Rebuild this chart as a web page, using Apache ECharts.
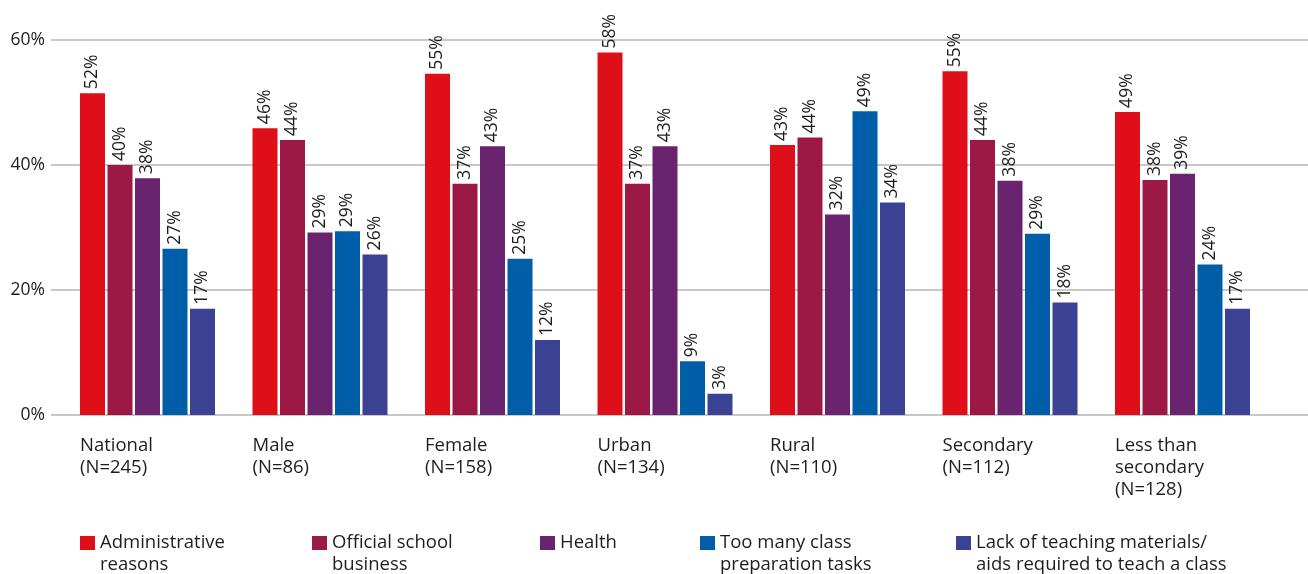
<!DOCTYPE html>
<html>
<head>
<meta charset="utf-8">
<title>Reasons for teacher absence</title>
<script src="https://cdn.jsdelivr.net/npm/echarts@6/dist/echarts.min.js"></script>
<style>
  html, body { margin: 0; padding: 0; background: #ffffff; }
  #chart { width: 1308px; height: 574px; }
</style>
</head>
<body>
<div id="chart"></div>
<script>
// Groups shown along the x axis
const categories = [
  'National\n(N=245)',
  'Male\n(N=86)',
  'Female\n(N=158)',
  'Urban\n(N=134)',
  'Rural\n(N=110)',
  'Secondary\n(N=112)',
  'Less than\nsecondary\n(N=128)'
];

// Share of teachers citing each reason (%)
const administrative = [51.5, 45.9, 54.6, 58.0, 43.2, 55.0, 48.5];
const officialBusiness = [40.0, 44.0, 37.0, 37.0, 44.4, 44.0, 37.6];
const health = [37.9, 29.2, 43.0, 43.0, 32.1, 37.5, 38.6];
const classPreparation = [26.6, 29.4, 25.0, 8.6, 48.6, 29.0, 24.1];
const teachingMaterials = [17.0, 25.7, 12.0, 3.4, 34.0, 18.0, 17.0];

const seriesNames = [
  'Administrative\nreasons',
  'Official school\nbusiness',
  'Health',
  'Too many class\npreparation tasks',
  'Lack of teaching materials/\naids required to teach a class'
];
const seriesValues = [administrative, officialBusiness, health, classPreparation, teachingMaterials];
const seriesColors = ['#de0f18', '#9b1944', '#6a236f', '#005ea9', '#3b4294'];

// Value axis ticks
const yMin = 0, yMax = 60, yStep = 20;

const FONT = '"Open Sans", "Liberation Sans", Arial, sans-serif';
const INK = '#1d1d1b';

// Legend entries sit at hand-placed x positions
const legendLeft = [80, 312, 540, 700, 956];

// Swatch drawn in the upper part of a taller icon box, so that for
// two-line labels it sits beside the first line of text.
const TALL_SWATCH = 'path://M0,0H15V14H0Z M0,36H0.01V35.99Z';

const chart = echarts.init(document.getElementById('chart'), null, { renderer: 'canvas' });

const series = seriesNames.map((name, i) => ({
  name: name,
  type: 'bar',
  xAxisIndex: 1,
  yAxisIndex: 1,
  barWidth: 25,
  barGap: '10%',
  itemStyle: { color: seriesColors[i] },
  label: {
    show: true,
    position: 'top',
    distance: 4,
    rotate: 90,
    align: 'left',
    verticalAlign: 'middle',
    fontFamily: FONT,
    fontSize: 17.5,
    color: INK,
    formatter: p => Math.round(p.value) + '%'
  },
  data: seriesValues[i]
}));

const legends = seriesNames.map((name, i) => {
  const twoLines = name.indexOf('\n') >= 0;
  return {
    data: [name],
    left: legendLeft[i],
    top: 532,
    padding: 0,
    orient: 'horizontal',
    icon: twoLines ? TALL_SWATCH : 'rect',
    itemWidth: 15,
    itemHeight: twoLines ? 36 : 14,
    selectedMode: false,
    textStyle: {
      fontFamily: FONT,
      fontSize: 18.5,
      color: INK,
      lineHeight: 22
    }
  };
});

chart.setOption({
  backgroundColor: '#ffffff',
  animation: false,
  legend: legends,
  grid: [
    // full-width frame that carries the horizontal gridlines and % labels
    { left: 51, right: 0, top: 40, bottom: 159, containLabel: false, outerBoundsMode: 'none' },
    // grid that holds the grouped bars
    { left: 61.25, right: 39.25, top: 40, bottom: 159, containLabel: false, outerBoundsMode: 'none' }
  ],
  xAxis: [
    { type: 'value', gridIndex: 0, min: 0, max: 1, show: false },
    {
      type: 'category',
      gridIndex: 1,
      data: categories,
      axisLine: { show: false },
      axisTick: { show: false },
      axisLabel: {
        interval: 0,
        margin: 20,
        width: 135,
        align: 'center',
        formatter: v => v.split('\n').map(s => '{l|' + s + '}').join('\n'),
        rich: {
          l: {
            align: 'left',
            fontFamily: FONT,
            fontSize: 18.5,
            lineHeight: 22,
            color: INK
          }
        }
      }
    }
  ],
  yAxis: [
    {
      type: 'value',
      gridIndex: 0,
      min: yMin,
      max: yMax,
      interval: yStep,
      axisLine: { show: false },
      axisTick: { show: false },
      splitLine: { show: true, lineStyle: { color: '#c8c8c8', width: 2 } },
      axisLabel: {
        margin: 6,
        fontFamily: FONT,
        fontSize: 17.5,
        color: INK,
        formatter: '{value}%'
      }
    },
    {
      type: 'value',
      gridIndex: 1,
      min: yMin,
      max: yMax,
      interval: yStep,
      show: false,
      splitLine: { show: false }
    }
  ],
  series: series
});
</script>
</body>
</html>
